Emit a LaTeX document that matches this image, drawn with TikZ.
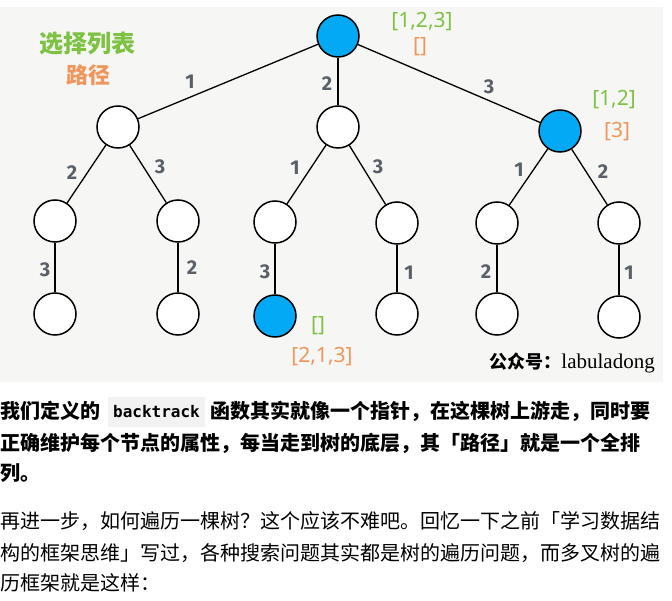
\documentclass[tikz,border=0pt]{standalone}
\usepackage{fontspec}
\setmainfont{Liberation Serif}
\newfontfamily\cjk{Noto Sans CJK SC}
\newfontfamily\lblfont{Fira Sans}
\newfontfamily\annfont{Noto Sans}
\newfontfamily\codefont{DejaVu Sans Mono}
\definecolor{bgc}{RGB}{246,246,244}
\definecolor{nodeblue}{RGB}{3,169,244}
\definecolor{anngreen}{RGB}{125,194,66}
\definecolor{annorange}{RGB}{240,150,90}
\definecolor{lblgray}{RGB}{90,96,104}
\definecolor{codebg}{RGB}{242,242,242}
\tikzset{
  tnode/.style={circle,draw=black,line width=1.5pt,fill=white,minimum size=42pt,inner sep=0pt},
  bnode/.style={tnode,fill=nodeblue},
  edge/.style={line width=1.3pt},
  elbl/.style={text=lblgray,font=\lblfont\bfseries\fontsize{20}{20}\selectfont,inner sep=0pt},
  greenann/.style={text=anngreen,font=\annfont\fontsize{21}{21}\selectfont,inner sep=0pt},
  orangeann/.style={text=annorange,font=\annfont\fontsize{21}{21}\selectfont,inner sep=0pt},
  bodyline/.style={anchor=base west,inner sep=0pt,font=\cjk\fontsize{20}{20}\selectfont},
}
\begin{document}
\begin{tikzpicture}[x=1pt,y=-1pt]
\useasboundingbox (0,0) rectangle (672,601);
\fill[bgc] (0,7) rectangle (663,382);
% nodes
\node[bnode] (r) at (338,36) {};
\node[tnode] (a) at (118,127) {};
\node[tnode] (b) at (338,127) {};
\node[bnode] (c) at (560,131) {};
\node[tnode] (a1) at (55,221) {};
\node[tnode] (a2) at (178,221) {};
\node[tnode] (b1) at (275,222) {};
\node[tnode] (b2) at (397,223) {};
\node[tnode] (c1) at (497,223) {};
\node[tnode] (c2) at (619,223) {};
\node[tnode] (a11) at (55,314) {};
\node[tnode] (a21) at (178,314) {};
\node[bnode] (b11) at (275,316) {};
\node[tnode] (b21) at (397,314) {};
\node[tnode] (c11) at (497,314) {};
\node[tnode] (c21) at (619,317) {};
% edges
\draw[edge] (r) -- (a);
\draw[edge] (r) -- (b);
\draw[edge] (r) -- (c);
\draw[edge] (a) -- (a1);
\draw[edge] (a) -- (a2);
\draw[edge] (b) -- (b1);
\draw[edge] (b) -- (b2);
\draw[edge] (c) -- (c1);
\draw[edge] (c) -- (c2);
\draw[edge] (a1) -- (a11);
\draw[edge] (a2) -- (a21);
\draw[edge] (b1) -- (b11);
\draw[edge] (b2) -- (b21);
\draw[edge] (c1) -- (c11);
\draw[edge] (c2) -- (c21);
% edge labels
\node[elbl] (l1) at (190,82) {1};
\node[elbl] (l2) at (327,84) {2};
\node[elbl] (l3) at (489,87) {3};
\node[elbl] (l4) at (72,173) {2};
\node[elbl] (l5) at (160,167) {3};
\node[elbl] (l6) at (295,168) {1};
\node[elbl] (l7) at (378,167) {3};
\node[elbl] (l8) at (519,170) {1};
\node[elbl] (l9) at (603,172) {2};
\node[elbl] (l10) at (45,270) {3};
\node[elbl] (l11) at (192,268) {2};
\node[elbl] (l12) at (265,272) {3};
\node[elbl] (l13) at (409,273) {1};
\node[elbl] (l14) at (486,272) {2};
\node[elbl] (l15) at (629,273) {1};
% annotations
\node[text=anngreen,font=\cjk\bfseries\fontsize{24}{24}\selectfont,inner sep=0pt] (t1) at (87,44) {选择列表};
\node[text=annorange,font=\cjk\bfseries\fontsize{22}{22}\selectfont,inner sep=0pt] (t2) at (88,75) {路径};
\node[greenann] (s1) at (422,22) {[1,2,3]};
\node[orangeann] (p1) at (420,47) {[]};
\node[greenann] (s2) at (614,100) {[1,2]};
\node[orangeann] (p2) at (617,132) {[3]};
\node[greenann] (s3) at (318,326) {[]};
\node[orangeann] (p3) at (322,357) {[2,1,3]};
\node[inner sep=0pt,anchor=east] (wm) at (655,363) {{\cjk\bfseries\fontsize{18}{18}\selectfont 公众号：}{\fontsize{21}{21}\selectfont labuladong}};
% body text
\node[fill=codebg,inner sep=0pt,minimum width=97pt,minimum height=30pt] (code) at (156.5,412) {\codefont\bfseries\fontsize{16}{16}\selectfont backtrack};
\node[bodyline,font=\cjk\bfseries\fontsize{20}{20}\selectfont] (b1l) at (0,418) {我们定义的};
\node[bodyline,font=\cjk\bfseries\fontsize{20}{20}\selectfont] (b1r) at (210,418) {函数其实就像一个指针，在这棵树上游走，同时要};
\node[bodyline,font=\cjk\bfseries\fontsize{20}{20}\selectfont] (b2) at (0,450) {正确维护每个节点的属性，每当走到树的底层，其「路径」就是一个全排};
\node[bodyline,font=\cjk\bfseries\fontsize{20}{20}\selectfont] (b3) at (0,480) {列。};
\node[bodyline] (b4) at (0,528) {再进一步，如何遍历一棵树？这个应该不难吧。回忆一下之前「学习数据结};
\node[bodyline] (b5) at (0,560) {构的框架思维」写过，各种搜索问题其实都是树的遍历问题，而多叉树的遍};
\node[bodyline] (b6) at (0,590) {历框架就是这样：};
\end{tikzpicture}
\end{document}
